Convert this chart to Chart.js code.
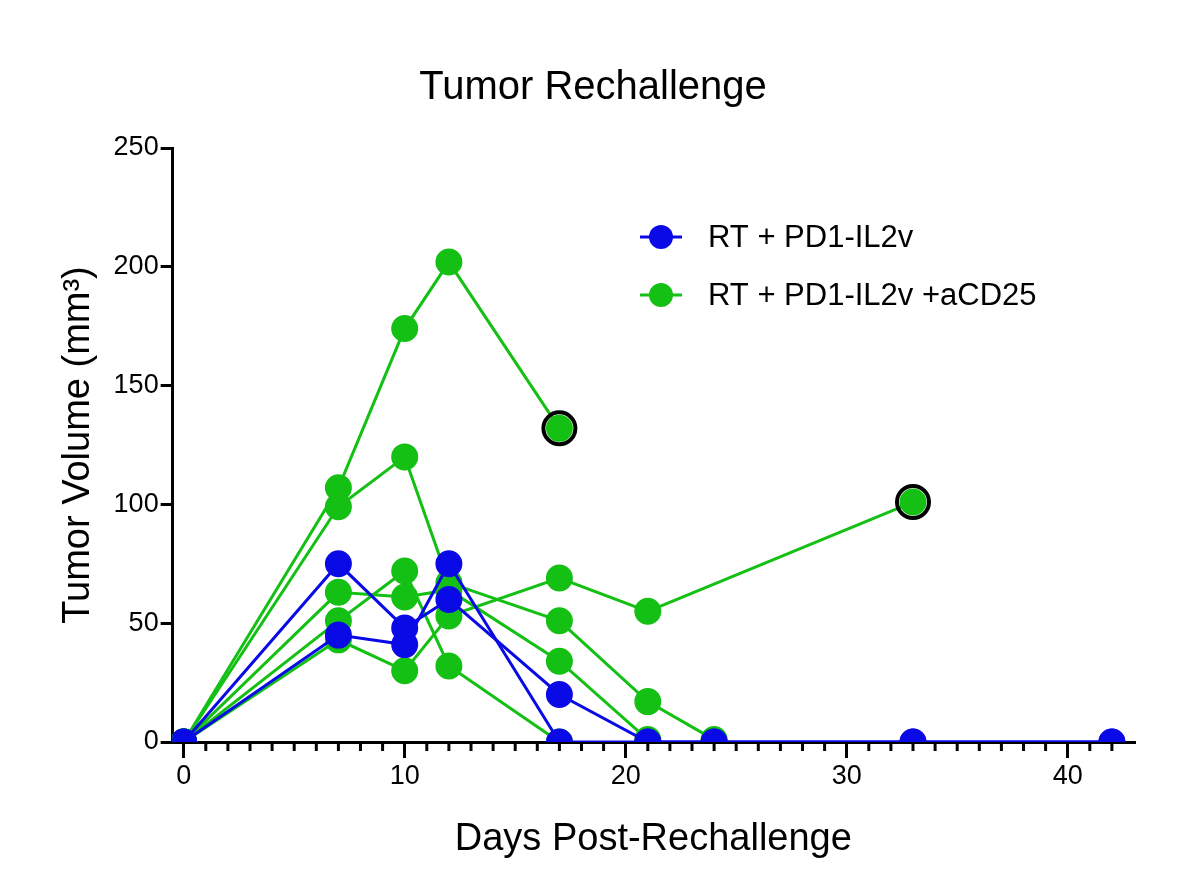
<!DOCTYPE html>
<html><head><meta charset="utf-8">
<script src="https://cdn.jsdelivr.net/npm/chart.js@4/dist/chart.umd.min.js"></script>
<style>html,body{margin:0;padding:0;background:#fff}#w{width:1179px;height:888px}</style>
</head><body><div id="w"><canvas id="c"></canvas></div>
<script>
const blueMice = [
  {days:[0,7,10,12,17,21,24,33,42], vol:[0,75,48,60,20,0,0,0,0]},
  {days:[0,7,10,12,17,21,24,33,42], vol:[0,45,41,75,0,0,0,0,0]}
];
const greenMice = [
  {days:[0,7,10,12,17], vol:[0,107,174,202,132]},
  {days:[0,7,10,12,17,21,24], vol:[0,99,120,67,51,17,1]},
  {days:[0,7,10,12,17,21], vol:[0,63,61,64,34,1]},
  {days:[0,7,10,12,17], vol:[0,51,72,32,0]},
  {days:[0,7,10,12,17,21,33], vol:[0,43,30,53,69,55,101]}
];
const circled = {days:[17,33], vol:[132,101]};
const xTicks = [0,10,20,30,40];
const yTicks = [0,50,100,150,200,250];
const legendLabels = ['RT + PD1-IL2v','RT + PD1-IL2v +aCD25'];
const BLUE='#0a0ae6', GREEN='#14c014';
const toPts = m => m.days.map((d,i)=>({x:d,y:m.vol[i]}));
const ds=[];
greenMice.forEach(m=>ds.push({data:toPts(m),borderColor:GREEN,backgroundColor:GREEN,borderWidth:3,pointRadius:12,pointHoverRadius:12,order:2}));
blueMice.forEach(m=>ds.push({data:toPts(m),borderColor:BLUE,backgroundColor:BLUE,borderWidth:3,pointRadius:12,pointHoverRadius:12,order:1}));
ds.push({data:toPts(circled),showLine:false,borderColor:'#000',backgroundColor:'rgba(0,0,0,0)',borderWidth:4,pointRadius:16,order:0});

const extras={id:'extras',afterDraw(ch){const c=ch.ctx,x=ch.scales.x,y=ch.scales.y;c.save();c.strokeStyle='#000';c.lineWidth=3;
 const yb=y.getPixelForValue(0);
 for(let v=1;v<=42;v++){if(v%10===0)continue;const px=x.getPixelForValue(v);c.beginPath();c.moveTo(px,yb);c.lineTo(px,yb+9);c.stroke();}
 const cols=[BLUE,GREEN];
 legendLabels.forEach((t,i)=>{const yy=237+i*58;c.strokeStyle=cols[i];c.fillStyle=cols[i];c.lineWidth=3;
  c.beginPath();c.moveTo(640,yy);c.lineTo(682,yy);c.stroke();c.beginPath();c.arc(661,yy,12,0,Math.PI*2);c.fill();
  c.fillStyle='#000';c.font='31px "Liberation Sans"';c.textBaseline='middle';c.fillText(t,708,yy+1);});
 c.restore();}};

new Chart(document.getElementById('c'),{type:'line',data:{datasets:ds},
plugins:[extras],
options:{responsive:true,maintainAspectRatio:false,animation:false,
 layout:{padding:{left:52,right:45,top:10,bottom:22}},
 plugins:{
  title:{display:true,text:'Tumor Rechallenge',color:'#000',font:{family:'Liberation Sans',size:40,weight:'normal'},padding:{top:54,bottom:36}},
  legend:{display:false},
  tooltip:{enabled:false}},
 scales:{
  x:{type:'linear',min:-0.5,max:43,afterBuildTicks:s=>{s.ticks=xTicks.map(v=>({value:v}));},
   grid:{display:true,drawOnChartArea:false,color:'#000',lineWidth:3,tickLength:16},border:{color:'#000',width:3},
   ticks:{color:'#000',font:{family:'Liberation Sans',size:27},padding:2},
   title:{display:true,text:'Days Post-Rechallenge',color:'#000',font:{family:'Liberation Sans',size:38},padding:{top:22}}},
  y:{min:0,max:250,afterBuildTicks:s=>{s.ticks=yTicks.map(v=>({value:v}));},
   grid:{display:true,drawOnChartArea:false,color:'#000',lineWidth:3,tickLength:12},border:{color:'#000',width:3},
   ticks:{color:'#000',font:{family:'Liberation Sans',size:27},padding:2},
   title:{display:true,text:'Tumor Volume (mm³)',color:'#000',font:{family:'Liberation Sans',size:38},padding:{bottom:10}}}
 }}});
</script></body></html>
